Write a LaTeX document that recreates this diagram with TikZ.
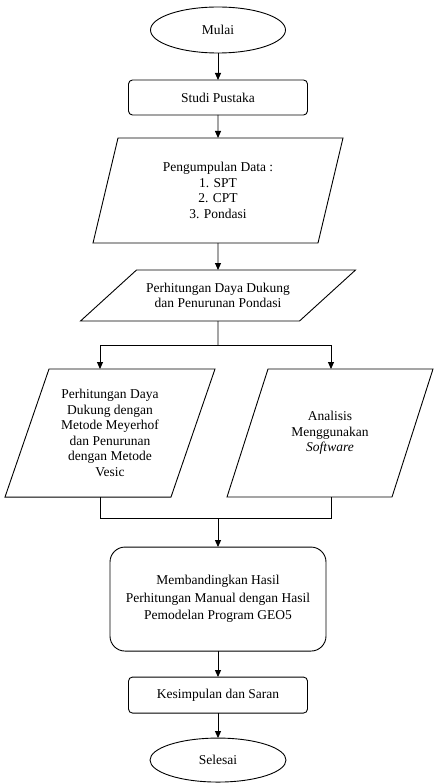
\documentclass[tikz,border=0pt]{standalone}
\usepackage{fontspec}
\setmainfont{Liberation Serif}
\usetikzlibrary{positioning, shapes.geometric, arrows.meta}

% text block of fixed size for the parallelograms
\newcommand{\isiblok}[3]{\parbox[c][#2][c]{#1}{\centering #3}}

\begin{document}
\begin{tikzpicture}[x=1pt, y=1pt, node distance=25pt,
  every node/.style={font=\fontsize{13.5}{15.5}\selectfont, line width=0.9pt, outer sep=0pt},
  terminal/.style={draw, ellipse, minimum width=135pt, minimum height=46pt, inner sep=0pt},
  proses/.style={draw, rounded corners=4pt, minimum height=35pt, align=center},
  inout/.style={draw, trapezium, inner sep=0pt},
  panah/.style={-{Triangle[length=7pt,width=6pt]}, line width=0.9pt}]
  \useasboundingbox (0,0) rectangle (434,-783);

  \node[terminal] (mulai) at (218,-30) {Mulai};
  \node[proses, minimum width=179pt, below=27pt of mulai] (studi) {Studi Pustaka};
  \node[inout, trapezium left angle=76.61, trapezium right angle=103.39, below=23pt of studi] (data)
        {\isiblok{200pt}{105pt}{Pengumpulan Data :\\1. SPT\\2. CPT\\3. Pondasi}};
  \node[inout, trapezium left angle=42.32, trapezium right angle=137.68, below=27pt of data] (hitung)
        {\isiblok{163pt}{51pt}{Perhitungan Daya Dukung\\dan Penurunan Pondasi}};

  \coordinate[below=24pt of hitung] (cabang);
  \coordinate[left=118pt of cabang] (cabangkiri);
  \coordinate[right=113pt of cabang] (cabangkanan);

  \node[inout, trapezium left angle=71.03, trapezium right angle=108.97,
        below=24pt of cabang, xshift=-108pt] (manual)
        {\isiblok{122pt}{128pt}{Perhitungan Daya\\Dukung dengan\\Metode Meyerhof\\dan Penurunan\\dengan Metode\\Vesic}};
  \node[inout, trapezium left angle=72.24, trapezium right angle=107.76,
        below=24pt of cabang, xshift=112pt] (software)
        {\isiblok{124pt}{128pt}{Analisis\\Menggunakan\\\textit{Software}}};

  \coordinate (gabung) at ([yshift=-21pt]cabang |- manual.south);

  \node[proses, rounded corners=15pt, minimum width=216pt, minimum height=104pt,
        font=\fontsize{13.5}{17.3}\selectfont, below=29pt of gabung] (banding)
        {Membandingkan Hasil\\Perhitungan Manual\ dengan Hasil\\Pemodelan Program GEO5};
  \node[proses, minimum width=179pt, minimum height=36pt, below=26pt of banding] (simpulan)
        {Kesimpulan dan Saran};
  \node[terminal, minimum width=136pt, minimum height=44pt, below=25pt of simpulan] (selesai)
        {Selesai};

  \draw[panah] (mulai) -- (studi);
  \draw[panah] (studi) -- (data);
  \draw[panah] (data) -- (hitung);
  \draw[line width=0.9pt] (hitung) -- (cabang);
  \draw[line width=0.9pt] (cabangkiri) -- (cabangkanan);
  \draw[panah] (cabangkiri) -- (cabangkiri |- manual.north);
  \draw[panah] (cabangkanan) -- (cabangkanan |- software.north);
  \draw[line width=0.9pt] (cabangkiri |- manual.south) |- (cabangkanan |- gabung)
        -- (cabangkanan |- software.south);
  \draw[panah] (gabung) -- (banding);
  \draw[panah] (banding) -- (simpulan);
  \draw[panah] (simpulan) -- (selesai);
\end{tikzpicture}
\end{document}
